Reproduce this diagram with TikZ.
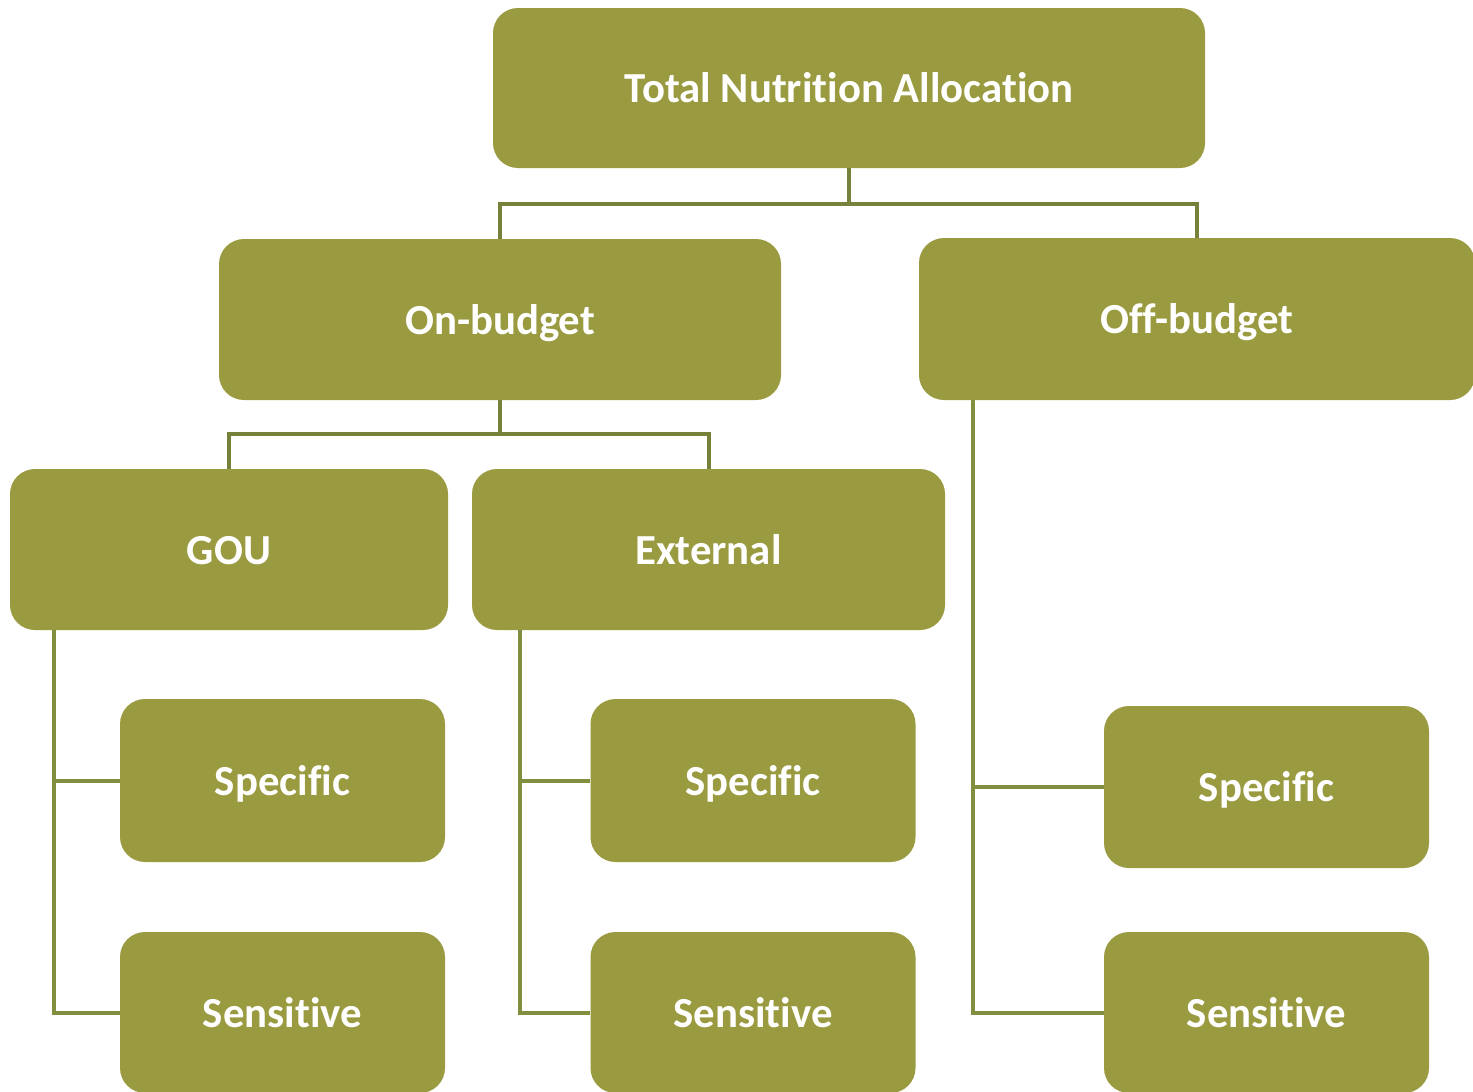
\documentclass[tikz,border=0pt]{standalone}
\usepackage{fontspec}
\setmainfont[Ligatures=NoCommon]{Carlito}
\definecolor{boxfill}{HTML}{9A9A40}
\definecolor{linetop}{HTML}{78813A}
\definecolor{linelow}{HTML}{80903E}
\begin{document}
\begin{tikzpicture}[x=0.5pt,y=-0.5pt,
  box/.style={fill=boxfill, draw=none, rounded corners=12.5pt, inner sep=0pt,
    text=white, text height=18.6pt, text depth=4pt,
    font=\fontsize{21.4}{25}\selectfont\bfseries},
  conntop/.style={draw=linetop, line width=2pt},
  connlow/.style={draw=linelow, line width=2pt}]
\useasboundingbox (0,0) rectangle (1473,1092);
\begin{scope}
\clip (0,0) rectangle (1473,1092);
% boxes
\node[box, minimum width=356pt, minimum height=80pt] (total) at (849,88) {Total Nutrition Allocation};
\node[box, minimum width=281pt, minimum height=80.5pt] (on) at (500,319.5) {On-budget};
\node[box, minimum width=278pt, minimum height=81pt] (off) at (1197,319) {Off-budget};
\node[box, minimum width=219pt, minimum height=80.5pt] (gou) at (229,549.5) {GOU};
\node[box, minimum width=236.5pt, minimum height=80.5pt] (ext) at (708.5,549.5) {External};
\node[box, minimum width=162.5pt, minimum height=81.5pt] (spec1) at (282.5,780.5) {Specific};
\node[box, minimum width=162.5pt, minimum height=80.5pt] (sens1) at (282.5,1012.5) {Sensitive};
\node[box, minimum width=162.5pt, minimum height=81.5pt] (spec2) at (753,780.5) {Specific};
\node[box, minimum width=162.5pt, minimum height=80.5pt] (sens2) at (753,1012.5) {Sensitive};
\node[box, minimum width=162.5pt, minimum height=81pt] (spec3) at (1266.5,787) {Specific};
\node[box, minimum width=162.5pt, minimum height=80.5pt] (sens3) at (1266.5,1012.5) {Sensitive};
% connector anchors
\coordinate (bar1) at (849,204);
\coordinate (bar2) at (500,434);
\coordinate (gx) at (54,0);
\coordinate (ex) at (520,0);
\coordinate (ox) at (973,0);
% top-level connectors
\draw[conntop] (total.south) -- (bar1) -| (on.north);
\draw[conntop] (bar1) -| (off.north);
\draw[conntop] (on.south) -- (bar2) -| (gou.north);
\draw[conntop] (bar2) -| (ext.north);
% GOU
\draw[connlow] (gx |- gou.south) |- (sens1.west);
\draw[connlow] (gx |- spec1.west) -- (spec1.west);
% External
\draw[connlow] (ex |- ext.south) |- (sens2.west);
\draw[connlow] (ex |- spec2.west) -- (spec2.west);
% Off-budget
\draw[connlow] (ox |- off.south) |- (sens3.west);
\draw[connlow] (ox |- spec3.west) -- (spec3.west);
\end{scope}
\end{tikzpicture}
\end{document}
